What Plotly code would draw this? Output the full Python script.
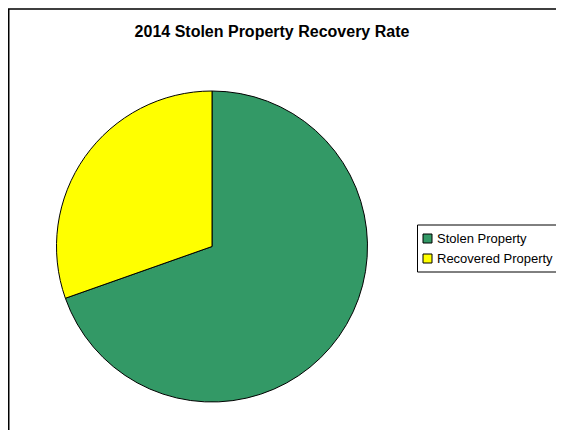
import plotly.graph_objects as go

labels = ["Stolen Property", "Recovered Property"]
values = [69.6, 30.4]
colors = ["#339966", "#FFFF00"]
title_text = "2014 Stolen Property Recovery Rate"

# figure size (page adds an 8px body margin around the figure)
W, H = 556, 422
FONT = "Liberation Sans, Arial, sans-serif"


def px_x(x):
    return x / W


def px_y(y):
    return 1 - y / H


# pie box in figure pixels
cx, cy, r = 204, 238.5, 155.5

fig = go.Figure(
    go.Pie(
        labels=labels,
        values=values,
        sort=False,
        direction="clockwise",
        rotation=0,
        marker=dict(colors=colors, line=dict(color="#000000", width=1)),
        textinfo="none",
        hoverinfo="label+percent",
        showlegend=False,
        domain=dict(x=[px_x(cx - r), px_x(cx + r)], y=[px_y(cy + r), px_y(cy - r)]),
    )
)

shapes = [
    # chart area frame (right/bottom run off the page)
    dict(
        type="rect", xref="paper", yref="paper",
        x0=px_x(0.75), x1=1.3, y0=-0.3, y1=px_y(1.0),
        line=dict(color="#000000", width=1.5),
        fillcolor="rgba(0,0,0,0)", layer="below",
    ),
    # legend frame
    dict(
        type="rect", xref="paper", yref="paper",
        x0=px_x(409.5), x1=1.3, y0=px_y(264), y1=px_y(217),
        line=dict(color="#000000", width=1),
        fillcolor="#FFFFFF", layer="below",
    ),
]
annotations = []

row0, row_gap = 230.5, 20
for i, (lab, col) in enumerate(zip(labels, colors)):
    yc = row0 + i * row_gap
    shapes.append(
        dict(
            type="rect", xref="paper", yref="paper",
            x0=px_x(415), x1=px_x(424), y0=px_y(yc + 4.5), y1=px_y(yc - 4.5),
            line=dict(color="#000000", width=1), fillcolor=col, layer="above",
        )
    )
    annotations.append(
        dict(
            text=lab, xref="paper", yref="paper",
            x=px_x(427), y=px_y(yc), xanchor="left", yanchor="middle",
            showarrow=False, font=dict(family=FONT, size=13, color="#000000"),
        )
    )

fig.update_layout(
    width=W,
    height=H,
    margin=dict(l=0, r=0, t=0, b=0, autoexpand=False),
    paper_bgcolor="#FFFFFF",
    plot_bgcolor="#FFFFFF",
    font=dict(family=FONT, size=12, color="#000000"),
    showlegend=False,
    title=dict(
        text="<b>" + title_text + "</b>",
        x=px_x(264),
        xanchor="center",
        xref="paper",
        y=px_y(23),
        yanchor="middle",
        yref="container",
        font=dict(family=FONT, size=16, color="#000000"),
    ),
    shapes=shapes,
    annotations=annotations,
)

fig.write_html("out.html")
